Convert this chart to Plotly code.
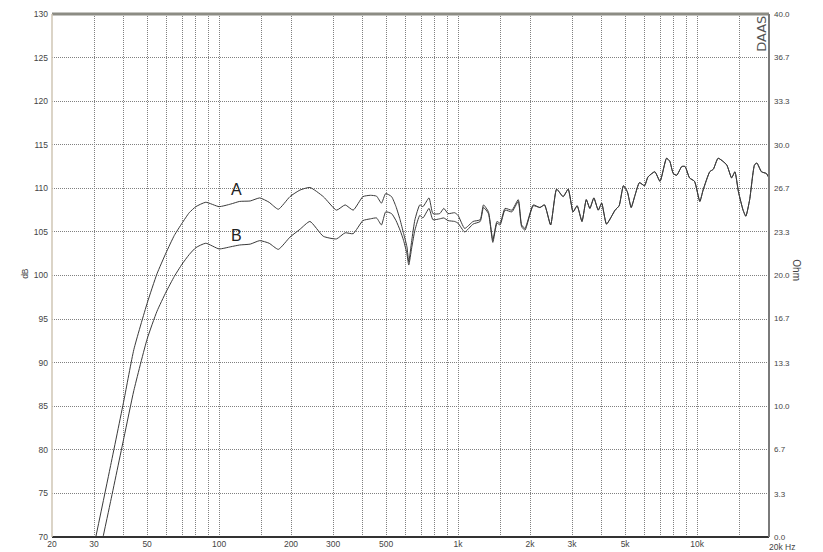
import math
import plotly.graph_objects as go

# ---------------- data ----------------
freq_low = [30.5, 35, 40, 44, 50, 55, 60, 65, 70, 75, 80, 88, 100, 112, 122, 135, 148, 162, 177, 198,
            218, 240, 273, 310, 337, 364, 400, 430, 456, 478, 498, 527, 550, 572, 592, 611, 622, 640,
            660, 692, 713, 756, 785, 838, 872, 908, 968, 1000, 1066, 1156, 1238, 1278, 1340, 1398,
            1455, 1500, 1572, 1680, 1786, 1845, 1906, 2063]
a_low = [70.0, 77.9, 85.7, 91.5, 96.8, 100.2, 102.6, 104.6, 106.0, 107.2, 107.9, 108.4, 107.9, 108.2,
         108.5, 108.55, 108.9, 108.4, 107.6, 109.05, 109.8, 110.1, 109.05, 107.5, 108.1, 107.5, 109.05,
         109.2, 109.1, 108.3, 109.4, 109.05, 107.9, 106.4, 104.8, 103.3, 101.6, 104.0, 106.4, 108.1,
         107.9, 108.9, 107.1, 107.1, 107.7, 107.1, 107.2, 106.9, 105.4, 106.2, 106.4, 108.1, 107.3,
         104.1, 106.2, 106.0, 107.7, 107.5, 108.7, 105.8, 105.4, 108.1]
b_low = [66.1, 73.8, 81.4, 86.8, 92.7, 95.9, 98.1, 99.9, 101.3, 102.4, 103.2, 103.7, 103.05, 103.3,
         103.5, 103.6, 104.0, 103.7, 103.0, 104.4, 105.3, 106.2, 104.5, 104.2, 104.9, 104.8, 106.3,
         106.5, 106.6, 105.8, 107.3, 107.1, 106.3, 105.2, 104.0, 102.5, 101.2, 103.2, 105.2, 106.9,
         106.6, 107.7, 106.4, 106.5, 106.6, 106.3, 106.2, 106.0, 105.0, 105.9, 106.2, 107.8, 107.1,
         103.8, 106.0, 105.8, 107.5, 107.3, 108.5, 105.6, 105.2, 108.0]

# above ~2.2 kHz both curves coincide
freq_high = [2200, 2300, 2440, 2585, 2752, 2890, 3027, 3150, 3300, 3440, 3560, 3700, 3860, 3990, 4180,
             4540, 4720, 4920, 5110, 5300, 5500, 5740, 6030, 6230, 6660, 7000, 7450, 7690, 7950, 8220,
             8630, 8910, 9300, 9760, 10270, 10600, 11300, 11700, 12250, 13300, 13950, 14400, 14900,
             15580, 16000, 16600, 17400, 17800, 18600, 19500, 20000]
shared_high = [107.8, 108.1, 105.8, 109.9, 109.05, 109.9, 107.3, 108.0, 106.2, 108.7, 107.7, 108.9,
               107.5, 108.3, 105.9, 107.5, 108.0, 110.3, 109.6, 107.8, 109.2, 110.65, 110.3, 111.3,
               111.9, 110.8, 113.45, 113.1, 111.7, 111.5, 112.5, 112.5, 111.2, 110.8, 108.5, 109.8,
               111.9, 112.2, 113.45, 112.7, 111.2, 111.9, 109.6, 107.5, 106.8, 108.7, 112.7, 112.9,
               111.9, 111.7, 111.2]

db_ticks = [70, 75, 80, 85, 90, 95, 100, 105, 110, 115, 120, 125, 130]
ohm_ticks = [0.0, 3.3, 6.7, 10.0, 13.3, 16.7, 20.0, 23.3, 26.7, 30.0, 33.3, 36.7, 40.0]
freq_ticks = [20, 30, 50, 100, 200, 300, 500, 1000, 2000, 3000, 5000, 10000, 20000]
freq_tick_text = ["20", "30", "50", "100", "200", "300", "500", "1k", "2k", "3k", "5k", "10k", ""]
freq_minor = [40, 60, 70, 80, 90, 150, 400, 600, 700, 800, 900, 1500, 4000, 6000, 7000, 8000,
              9000, 15000]

label_a = ("A", 118, 109.9)
label_b = ("B", 118, 104.6)

# ---------------- figure ----------------
freq_a = freq_low + freq_high
db_a = a_low + shared_high
freq_b = freq_low + freq_high
db_b = b_low + shared_high

font_fam = "Liberation Sans, Arial, sans-serif"
line_col = "#3a3a3a"

fig = go.Figure()
fig.add_trace(go.Scatter(x=freq_b, y=db_b, mode="lines",
                         line=dict(color=line_col, width=1, shape="spline", smoothing=0.5),
                         showlegend=False, hoverinfo="skip"))
fig.add_trace(go.Scatter(x=freq_a, y=db_a, mode="lines",
                         line=dict(color=line_col, width=1, shape="spline", smoothing=0.5),
                         showlegend=False, hoverinfo="skip"))
fig.add_trace(go.Scatter(x=[None], y=[None], yaxis="y2", showlegend=False, hoverinfo="skip"))

grid = dict(gridcolor="#808080", griddash="1px,1px", gridwidth=1)

# page body adds an 8px offset, so the figure is sized to fit the window
fig.update_layout(
    width=815, height=544,
    margin=dict(l=44, r=54, t=6, b=15, autoexpand=False),
    paper_bgcolor="white", plot_bgcolor="white",
    font=dict(family=font_fam, size=8, color="#444"),
    xaxis=dict(type="log", range=[math.log10(20), math.log10(20000)], automargin=False,
               tickmode="array", tickvals=freq_ticks, ticktext=freq_tick_text,
               showgrid=True, zeroline=False, showline=False, ticks="",
               tickfont=dict(size=8.5, color="#444"),
               minor=dict(tickmode="array", tickvals=freq_minor, showgrid=True, ticks="",
                          gridcolor="#808080", griddash="1px,1px", gridwidth=1),
               **grid),
    yaxis=dict(range=[70, 130], tickmode="array", tickvals=db_ticks, automargin=False,
               showgrid=True, zeroline=False, showline=False, ticks="",
               ticklabelstandoff=3,
               tickfont=dict(size=8.5, color="#444"), **grid),
    yaxis2=dict(range=[0, 40], overlaying="y", side="right", tickmode="array", automargin=False,
                tickvals=ohm_ticks, ticktext=[f"{v:.1f}" for v in ohm_ticks],
                showgrid=False, zeroline=False, showline=False, ticks="",
                ticklabelstandoff=4,
                tickfont=dict(size=8, color="#444")),
)

# frame
fig.add_shape(type="line", xref="paper", yref="paper", x0=0, x1=1, y0=1, y1=1,
              line=dict(color="#8c8c84", width=3))
fig.add_shape(type="line", xref="paper", yref="paper", x0=0, x1=1, y0=0, y1=0,
              line=dict(color="#333333", width=2))
fig.add_shape(type="line", xref="paper", yref="paper", x0=1, x1=1, y0=0, y1=1,
              line=dict(color="#7a7a7a", width=2))
fig.add_shape(type="line", xref="paper", yref="paper", x0=0, x1=0, y0=0, y1=1,
              line=dict(color="#cfc6b4", width=1.5))

# texts
for txt, fx, dbv in (label_a, label_b):
    fig.add_annotation(x=math.log10(fx), y=dbv, text=txt, showarrow=False,
                       xanchor="center", yanchor="middle",
                       font=dict(size=16, color="#222", family="Liberation Sans, Arial"))

fig.add_annotation(xref="paper", yref="paper", x=0.9975, y=-0.006, text="20k Hz",
                   xanchor="left", yanchor="top", showarrow=False,
                   font=dict(size=8.5, color="#444"))
fig.add_annotation(xref="paper", yref="paper", x=-0.0377, y=0.505, text="dB", textangle=-90,
                   xanchor="center", yanchor="middle",
                   showarrow=False, font=dict(size=8.5, color="#444"))
fig.add_annotation(xref="paper", yref="paper", x=1.039, y=0.51, text="Ohm", textangle=90,
                   xanchor="center", yanchor="middle",
                   showarrow=False, font=dict(size=10, color="#444"))
fig.add_annotation(xref="paper", yref="paper", x=0.9895, y=0.963, text="DAAS", textangle=-90,
                   xanchor="center", yanchor="middle",
                   showarrow=False, font=dict(size=13, color="#555", family="DejaVu Sans"))

fig.write_html("out.html")
